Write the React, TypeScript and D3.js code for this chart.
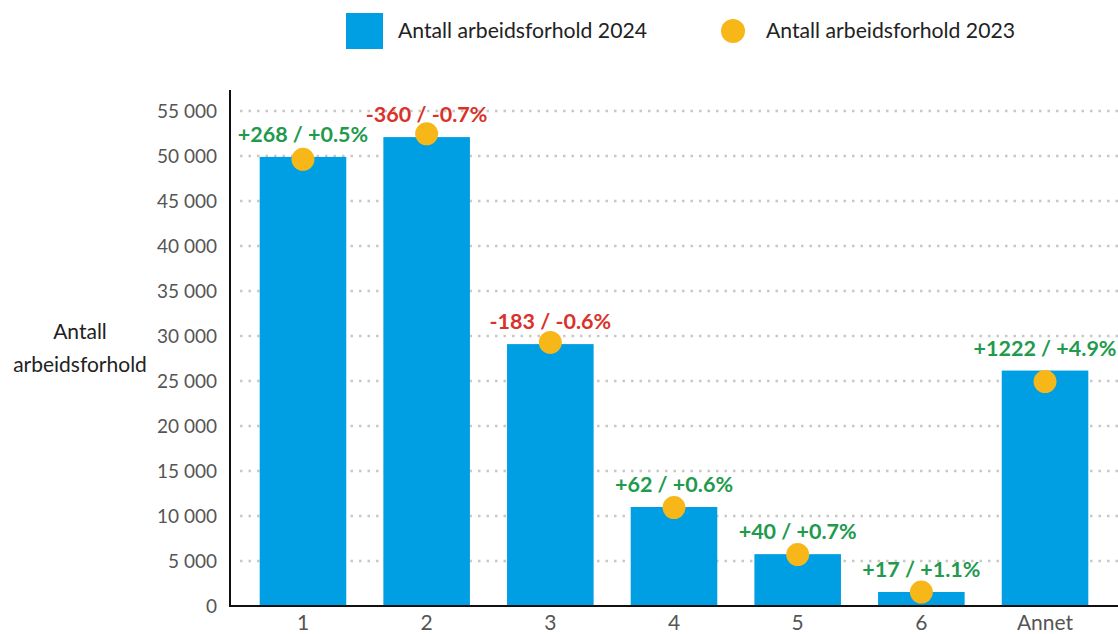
import React from "react";
import * as d3 from "d3";

const categories = ["1", "2", "3", "4", "5", "6", "Annet"];
const values2024 = [49900, 52100, 29100, 11000, 5760, 1560, 26160];
const values2023 = [49632, 52460, 29283, 10938, 5720, 1543, 24938];
const changeLabels = ["+268 / +0.5%", "-360 / -0.7%", "-183 / -0.6%", "+62 / +0.6%", "+40 / +0.7%", "+17 / +1.1%", "+1222 / +4.9%"];
const yTicks = [0, 5000, 10000, 15000, 20000, 25000, 30000, 35000, 40000, 45000, 50000, 55000];

const W = 1118;
const H = 634;
const FONT = "Lato, 'Open Sans', sans-serif";
const BLUE = "#009fe3";
const GOLD = "#f7b719";
const GREEN = "#219a4d";
const RED = "#d9322b";

export default function App() {
  const x0 = 230;
  const x1 = 1118;
  const y = d3.scaleLinear().domain([0, 55000]).range([606, 111]);
  const x = d3.scaleBand<string>().domain(categories).range([x0, x1]).paddingInner(0.3).paddingOuter(0.24);
  const fmt = (v: number) => d3.format(",")(v).replace(/,/g, " ");

  return (
    <svg width={W} height={H} style={{ position: "absolute", left: 0, top: 0, fontFamily: FONT }}>
      <rect width={W} height={H} fill="#fff" />
      {/* legend */}
      <rect x={346} y={13} width={37} height={36} fill={BLUE} />
      <text x={398} y={38} fontSize={21.2} fill="#222">Antall arbeidsforhold 2024</text>
      <circle cx={733} cy={31} r={12} fill={GOLD} />
      <text x={766} y={38} fontSize={21.2} fill="#222">Antall arbeidsforhold 2023</text>

      {/* grid */}
      {yTicks.filter((t) => t > 0).map((t) => (
        <line key={t} x1={240} x2={W} y1={y(t)} y2={y(t)} stroke="#c8c8c8" strokeWidth={2.5} strokeDasharray="2.5 6" />
      ))}
      {/* y tick labels */}
      {yTicks.map((t) => (
        <text key={t} x={217} y={y(t) + 6.5} fontSize={19} fill="#555" textAnchor="end">{fmt(t)}</text>
      ))}
      {/* y title */}
      <text x={80} y={339} fontSize={21} fill="#222" textAnchor="middle">Antall</text>
      <text x={80} y={372} fontSize={21} fill="#222" textAnchor="middle">arbeidsforhold</text>

      {/* bars */}
      {categories.map((c, i) => (
        <rect key={c} x={x(c)} y={y(values2024[i])} width={x.bandwidth()} height={y(0) - y(values2024[i])} fill={BLUE} />
      ))}
      {/* dots */}
      {categories.map((c, i) => (
        <circle key={c} cx={(x(c) as number) + x.bandwidth() / 2} cy={y(values2023[i])} r={11.5} fill={GOLD} />
      ))}
      {/* labels */}
      {categories.map((c, i) => (
        <text key={c} x={(x(c) as number) + x.bandwidth() / 2} y={y(values2024[i]) - 15} fontSize={21.5} fontWeight={700}
          fill={changeLabels[i].startsWith("-") ? RED : GREEN} textAnchor="middle">{changeLabels[i]}</text>
      ))}
      {/* axes */}
      <line x1={x0} x2={x0} y1={90} y2={607} stroke="#111" strokeWidth={2} />
      <line x1={x0 - 1} x2={W} y1={606} y2={606} stroke="#111" strokeWidth={2} />
      {categories.map((c) => (
        <text key={c} x={(x(c) as number) + x.bandwidth() / 2} y={630} fontSize={21} fill="#555" textAnchor="middle">{c}</text>
      ))}
    </svg>
  );
}
